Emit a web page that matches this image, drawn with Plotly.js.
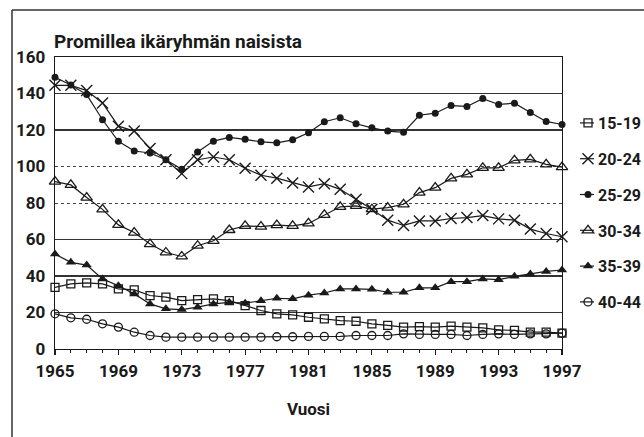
<!DOCTYPE html>
<html>
<head>
<meta charset="utf-8">
<script src="https://cdn.plot.ly/plotly-3.0.1.min.js"></script>
<style>
html,body{margin:0;padding:0;background:#fff;}
#chart{width:644px;height:437px;}
</style>
</head>
<body>
<div id="chart"></div>
<script>
const years = [1965,1966,1967,1968,1969,1970,1971,1972,1973,1974,1975,1976,1977,1978,1979,1980,1981,1982,1983,1984,1985,1986,1987,1988,1989,1990,1991,1992,1993,1994,1995,1996,1997];
const xTickVals = [1965,1969,1973,1977,1981,1985,1989,1993,1997];
const yTickVals = [0,20,40,60,80,100,120,140,160];
const solidGridVals = [20,40,60,120,140];
const dottedGridVals = [80,100];

const seriesNames = ["15-19","20-24","25-29","30-34","35-39","40-44"];
const v15_19 = [33.8,35.7,36.2,35.7,32.9,32.4,29.3,28.4,26.5,27.1,27.5,26.5,23.8,21.1,19.3,18.7,17.4,16.5,15.6,15.2,13.8,12.9,12.0,12.3,12.0,12.5,12.0,11.6,10.5,10.2,9.2,9.2,8.7];
const v20_24 = [144.5,144.5,141.6,134.8,122.1,119.4,109.9,103.7,96.1,103.7,105.2,103.7,99.0,95.2,93.6,91.0,88.8,90.6,87.5,82.1,76.6,70.6,67.7,70.2,70.2,71.5,72.0,73.1,71.3,70.6,65.7,63.3,61.5];
const v25_29 = [148.9,144.7,139.4,125.6,113.8,108.5,107.4,103.7,98.5,107.9,113.9,115.9,114.9,113.5,113.0,114.6,118.5,124.5,126.7,123.4,121.2,119.4,118.7,128.1,129.2,133.4,132.9,137.2,134.0,134.7,129.6,124.7,123.0];
const v30_34 = [91.7,89.9,83.0,76.5,68.0,63.8,57.5,52.9,50.7,56.6,59.3,65.2,67.5,67.1,67.9,67.5,68.8,73.5,77.9,78.4,76.6,77.5,79.3,85.7,88.4,93.5,95.7,99.3,99.3,103.4,103.9,101.2,99.7];
const v35_39 = [52.0,47.5,46.0,38.4,34.7,30.2,24.7,22.0,21.6,22.9,24.7,25.6,25.1,26.5,27.8,27.5,29.5,30.7,32.9,32.9,32.7,31.1,31.1,33.5,33.5,36.9,36.9,38.4,38.0,39.8,41.1,42.5,43.3];
const v40_44 = [19.3,17.1,16.3,13.8,12.0,9.2,7.4,6.5,6.5,6.5,6.5,6.5,6.5,6.5,6.7,6.7,6.9,6.9,6.9,7.4,7.4,7.4,8.3,8.0,8.0,8.0,7.4,8.0,8.3,8.0,8.3,8.3,8.7];
const seriesValues = [v15_19, v20_24, v25_29, v30_34, v35_39, v40_44];

const FONT = 'Roboto, "Liberation Sans", sans-serif';
const INK = '#1a1a1a';

const markerStyles = [
  {symbol:'square-open', size:8, line:{width:1.3, color:INK}},
  {symbol:'x-thin-open', size:11, line:{width:1.4, color:INK}},
  {symbol:'circle', size:7, line:{width:0}},
  {symbol:'triangle-up-open', size:10, line:{width:1.3, color:INK}},
  {symbol:'triangle-up', size:9, line:{width:0}},
  {symbol:'circle-open', size:8, line:{width:1.3, color:INK}}
];

const traces = seriesNames.map((name, i) => ({
  type:'scatter', mode:'lines+markers', name:name,
  x: years, y: seriesValues[i],
  legendgroup: 'g'+i,
  line:{color:INK, width:1.2},
  marker: Object.assign({color:INK}, markerStyles[i]),
  cliponaxis:false
}));

const layout = {
  width:644, height:437,
  margin:{l:55, r:82, t:57, b:88, autoexpand:false},
  paper_bgcolor:'#fff', plot_bgcolor:'rgba(0,0,0,0)',
  font:{family:FONT, size:17, color:INK, weight:'bold'},
  title:{text:'<b>Promillea ikäryhmän naisista</b>', x:54/644, xanchor:'left', xref:'container',
         y:1-41/437, yanchor:'middle', yref:'container',
         font:{family:FONT, size:19, color:INK}},
  showlegend:true,
  legend:{x:(558-55)/507, xanchor:'left', y:(349-106)/292, yanchor:'top', traceorder:'grouped', tracegroupgap:12,
          font:{family:FONT, size:16, color:INK, weight:'bold'}, bgcolor:'rgba(0,0,0,0)', borderwidth:0},
  xaxis:{range:[1965,1997], tickvals:xTickVals, ticktext:xTickVals.map(String),
         ticks:'outside', ticklen:5, tickwidth:1.2, tickcolor:INK,
         minor:{dtick:1, tick0:1965, ticks:'outside', ticklen:3, tickwidth:1, tickcolor:INK, showgrid:false},
         showline:true, linecolor:INK, linewidth:1.3, mirror:true, showgrid:false, zeroline:false,
         ticklabelstandoff:1,
         tickfont:{family:FONT, size:17, color:INK, weight:'bold'},
         title:{text:'<b>Vuosi</b>', standoff:23, font:{family:FONT, size:17, color:INK}}},
  yaxis:{range:[0,160], tickvals:yTickVals, ticktext:yTickVals.map(String),
         ticks:'', showline:true, linecolor:INK, linewidth:1.3, mirror:true,
         showgrid:false, zeroline:false, ticklabelstandoff:5,
         tickfont:{family:FONT, size:17, color:INK, weight:'bold'}},
  yaxis2:{overlaying:'y', range:[0,160], tickvals:solidGridVals, showticklabels:false, ticks:'',
          showgrid:true, gridcolor:'#333', gridwidth:1.3, zeroline:false, showline:false, layer:'below traces'},
  yaxis3:{overlaying:'y', range:[0,160], tickvals:dottedGridVals, showticklabels:false, ticks:'',
          showgrid:true, gridcolor:'#444', gridwidth:1, griddash:'dot', zeroline:false, showline:false, layer:'below traces'},
  shapes:[
    {type:'line', xref:'paper', yref:'paper', x0:(12-55)/507, x1:(12-55)/507, y0:(349-10)/292, y1:(349-445)/292, line:{color:'#333', width:1.5}},
    {type:'line', xref:'paper', yref:'paper', x0:(12-55)/507, x1:(650-55)/507, y0:(349-10)/292, y1:(349-10)/292, line:{color:'#333', width:1.5}}
  ]
};

traces.push({type:'scatter', x:[1965], y:[0], yaxis:'y2', mode:'markers', marker:{opacity:0}, showlegend:false, hoverinfo:'skip'});
traces.push({type:'scatter', x:[1965], y:[0], yaxis:'y3', mode:'markers', marker:{opacity:0}, showlegend:false, hoverinfo:'skip'});

Plotly.newPlot('chart', traces, layout, {displayModeBar:false, staticPlot:true}).then(function(gd){
  // shorten legend sample lines so they sit right of the plot, like the reference key
  gd.querySelectorAll('.legend .legendlines path').forEach(function(p){ p.setAttribute('d','M22,0h14'); });
  gd.querySelectorAll('.legend .legendpoints path.scatterpts').forEach(function(p){ p.setAttribute('transform','translate(30,0)'); });
});
</script>
</body>
</html>
